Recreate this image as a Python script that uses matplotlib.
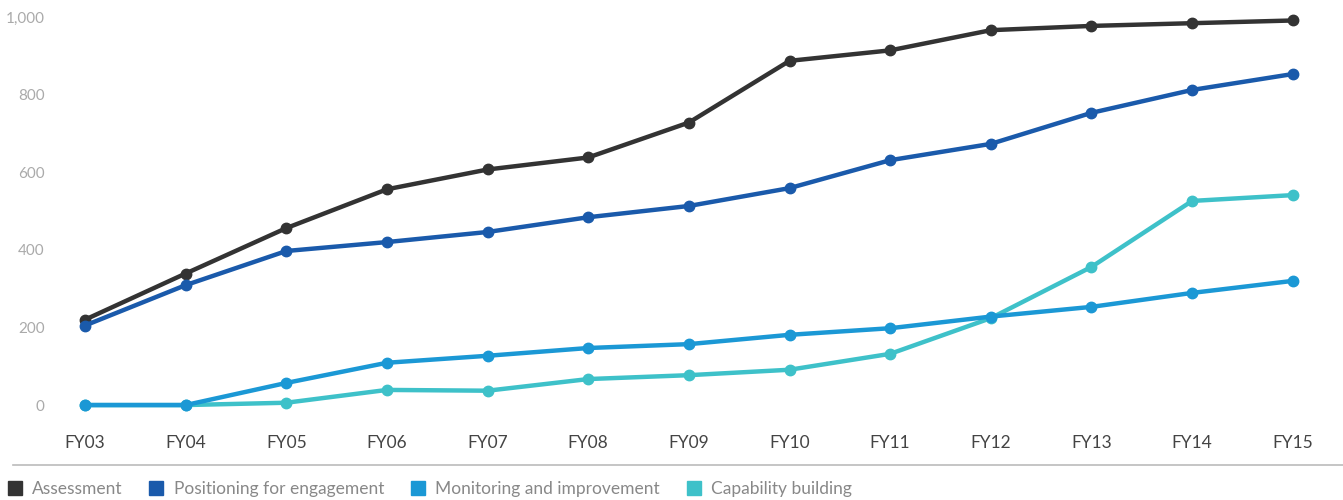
import matplotlib
matplotlib.use("Agg")
import matplotlib.pyplot as plt
from matplotlib.lines import Line2D

years = ["FY03", "FY04", "FY05", "FY06", "FY07", "FY08", "FY09", "FY10", "FY11", "FY12", "FY13", "FY14", "FY15"]
assessment = [220, 339, 456, 556, 607, 638, 728, 887, 914, 966, 977, 984, 991]
positioning = [205, 309, 397, 420, 446, 484, 513, 559, 631, 673, 753, 812, 853]
monitoring = [0, 0, 57, 109, 127, 147, 157, 181, 198, 228, 253, 289, 320]
capability = [0, 0, 6, 39, 37, 67, 77, 91, 132, 224, 356, 526, 541]

series = [
    ("Assessment", assessment, "#333333", 2),
    ("Positioning for engagement", positioning, "#1a5aab", 3),
    ("Monitoring and improvement", monitoring, "#1b98d5", 5),
    ("Capability building", capability, "#3ec1c9", 4),
]

plt.rcParams['font.family'] = ['Lato', 'DejaVu Sans']
W, H = 1343, 500
fig = plt.figure(figsize=(W / 100, H / 100), dpi=100)
ax = fig.add_axes([50 / W, 1 - 407 / H, (1330 - 50) / W, (407 - 10) / H])

x = list(range(len(years)))
for name, vals, col, z in series:
    ax.plot(x, vals, color=col, lw=3.2, marker='o', ms=7.5, zorder=z, clip_on=False,
            solid_capstyle='round')

ax.set_xlim(-0.348, 12.37)
ax.set_ylim(-5, 1018)
ax.set_xticks(x)
ax.set_xticklabels(years, fontsize=12.5, color='#444444')
ax.set_yticks([0, 200, 400, 600, 800, 1000])
ax.set_yticklabels(["0", "200", "400", "600", "800", "1,000"], fontsize=11, color='#aaaaaa')
ax.tick_params(axis='both', length=0)
ax.tick_params(axis='x', pad=20.5)
ax.tick_params(axis='y', pad=4)
for s in ax.spines.values():
    s.set_visible(False)

fig.add_artist(Line2D([13 / W, 1.0], [1 - 465 / H, 1 - 465 / H], color='#bbbbbb', lw=1.2))

handles = [Line2D([], [], ls='none', marker='s', ms=10, color=c) for _, _, c, _ in series]
labels = [n for n, _, _, _ in series]
leg = fig.legend(handles, labels, loc='center left', bbox_to_anchor=(6 / W, 1 - 489 / H),
                 ncol=4, frameon=False, fontsize=12.5, handlelength=1.0, handletextpad=0.5,
                 columnspacing=1.45, borderaxespad=0, borderpad=0)
for t in leg.get_texts():
    t.set_color('#888888')

fig.savefig("out.png", dpi=100)
